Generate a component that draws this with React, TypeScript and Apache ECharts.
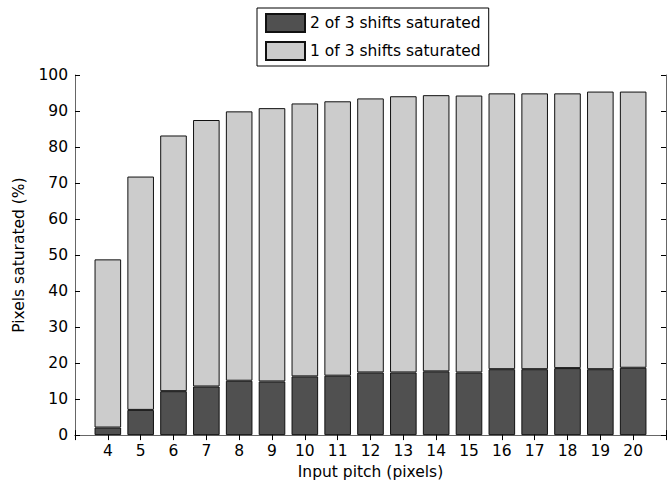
import React, { useEffect, useRef } from "react";
import * as echarts from "echarts";

// Input pitch in pixels (one bar per pitch); the axis runs from 3 to 21
const pitch = [4, 5, 6, 7, 8, 9, 10, 11, 12, 13, 14, 15, 16, 17, 18, 19, 20];
const axisCategories = ["3", ...pitch.map(String), "21"];
// Percentage of pixels saturated in 2 of 3 shifts (lower stack)
const twoOfThree = [2.1, 7.0, 12.2, 13.5, 15.1, 14.9, 16.3, 16.5, 17.4, 17.4, 17.7, 17.4, 18.3, 18.3, 18.6, 18.3, 18.7];
// Percentage of pixels saturated in 1 of 3 shifts (upper stack)
const oneOfThree = [46.7, 64.8, 71.0, 74.0, 74.8, 75.9, 75.8, 76.2, 76.1, 76.7, 76.7, 76.9, 76.6, 76.6, 76.3, 77.1, 76.7];

const FONT = "DejaVu Sans";

// pad a per-pitch series with empty slots for the axis ends at 3 and 21
const onAxis = (vals: number[]) => [null, ...vals, null];

export default function App() {
  const ref = useRef<HTMLDivElement>(null);

  useEffect(() => {
    if (!ref.current) return;
    const chart = echarts.init(ref.current, undefined, { renderer: "svg" });
    const tickStyle = { show: true, inside: true, length: 5, lineStyle: { color: "#000", width: 1 } };
    const axisLine = { show: true, lineStyle: { color: "#666", width: 1 } };
    const hideEnds = (v: string) => (v === "3" || v === "21" ? "" : v);

    chart.setOption({
      animation: false,
      backgroundColor: "#fff",
      textStyle: { fontFamily: FONT },
      grid: { left: 75, right: -4, top: 75, bottom: 49, containLabel: false },
      legend: {
        left: 257,
        top: 8,
        orient: "vertical",
        padding: [5, 8, 5, 8],
        itemWidth: 39,
        itemHeight: 18,
        itemGap: 8,
        borderColor: "#000",
        borderWidth: 1,
        backgroundColor: "#fff",
        icon: "rect",
        textStyle: { fontFamily: FONT, fontSize: 15.5, color: "#000" },
        data: ["2 of 3 shifts saturated", "1 of 3 shifts saturated"],
      },
      xAxis: [
        {
          type: "category",
          data: axisCategories,
          boundaryGap: false,
          position: "bottom",
          name: "Input pitch (pixels)",
          nameLocation: "middle",
          nameGap: 23,
          nameTextStyle: { fontFamily: FONT, fontSize: 15.5, color: "#000" },
          axisLine,
          axisTick: { ...tickStyle, interval: 0 },
          splitLine: { show: false },
          axisLabel: {
            interval: 0,
            margin: 8,
            fontFamily: FONT,
            fontSize: 15.5,
            color: "#000",
            formatter: hideEnds,
          },
        },
        {
          type: "category",
          data: axisCategories,
          boundaryGap: false,
          position: "top",
          axisLine,
          axisTick: { ...tickStyle, interval: 0 },
          splitLine: { show: false },
          axisLabel: { show: false },
        },
      ],
      yAxis: [
        {
          type: "value",
          min: 0,
          max: 100,
          interval: 10,
          position: "left",
          name: "Pixels saturated (%)",
          nameLocation: "middle",
          nameGap: 48,
          nameRotate: 90,
          nameTextStyle: { fontFamily: FONT, fontSize: 15.5, color: "#000" },
          axisLine,
          axisTick: tickStyle,
          splitLine: { show: false },
          axisLabel: { margin: 7, fontFamily: FONT, fontSize: 15.5, color: "#000" },
        },
        {
          type: "value",
          min: 0,
          max: 100,
          interval: 10,
          position: "right",
          axisLine,
          axisTick: tickStyle,
          splitLine: { show: false },
          axisLabel: { show: false },
        },
      ],
      series: [
        {
          name: "2 of 3 shifts saturated",
          type: "bar",
          stack: "sat",
          barWidth: 26.6,
          xAxisIndex: 0,
          yAxisIndex: 0,
          itemStyle: { color: "#505050", borderColor: "#111", borderWidth: 1 },
          data: onAxis(twoOfThree),
        },
        {
          name: "1 of 3 shifts saturated",
          type: "bar",
          stack: "sat",
          barWidth: 26.6,
          xAxisIndex: 0,
          yAxisIndex: 0,
          itemStyle: { color: "#cccccc", borderColor: "#111", borderWidth: 1 },
          data: onAxis(oneOfThree),
        },
      ],
    });

    return () => chart.dispose();
  }, []);

  return (
    <div
      ref={ref}
      style={{ position: "fixed", left: 0, top: 0, width: 669, height: 485, background: "#fff" }}
    />
  );
}
